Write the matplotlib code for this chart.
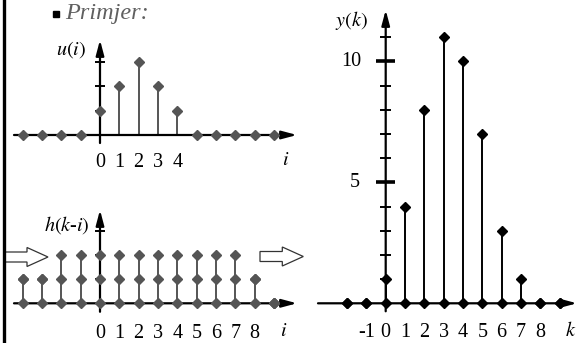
import numpy as np
import matplotlib
matplotlib.use('Agg')
import matplotlib.pyplot as plt
from matplotlib.patches import FancyArrow

plt.rcParams['font.family'] = 'Liberation Serif'
plt.rcParams['mathtext.fontset'] = 'stix'

# ulazni signal u(i)
i_vals = np.arange(-4, 10)
u_vals = [0, 0, 0, 0, 1, 2, 3, 2, 1, 0, 0, 0, 0, 0]

# pomaknuti impulsni odziv h(k-i)
h_top = [1, 1, 2, 2, 2, 2, 2, 2, 2, 2, 2, 2, 1, 0]
h_mid = [1, 1, 1, 1, 1, 1, 1, 1, 1, 1, 1, 1, 1, 0]

# izlaz y(k)
k_vals = np.arange(-2, 10)
y_vals = [0, 0, 1, 4, 8, 11, 10, 7, 3, 1, 0, 0]

u_ticks = [1, 2, 3]
h_ticks = [1, 2, 3]
y_minor = [1, 2, 3, 4, 6, 7, 8, 9, 11]
y_major = [5, 10]

W, H = 576, 343
fig = plt.figure(figsize=(W / 100, H / 100), dpi=100)

GRAY = '#555555'
FS = 14.5
MS = 4.8


def panel(ox, oy, sx, sy):
    # transparent axes over the whole figure, origin at pixel (ox, oy)
    ax = fig.add_axes([0, 0, 1, 1])
    ax.set_xlim(-ox / sx, (W - ox) / sx)
    ax.set_ylim((oy - H) / sy, oy / sy)
    ax.axis('off')
    ax.patch.set_alpha(0)
    return ax


def arrow_axis(ax, x0, y0, x1, y1):
    ax.annotate('', xy=(x1, y1), xytext=(x0, y0),
                arrowprops=dict(arrowstyle='-|>,head_length=0.75,head_width=0.2',
                                mutation_scale=12, color='black', lw=1.6,
                                shrinkA=0, shrinkB=0), annotation_clip=False)


def yticks(ax, vals, half, lw=1.4):
    for v in vals:
        ax.plot([-half, half], [v, v], color='black', lw=lw, solid_capstyle='butt')


SX = 19.33

# --- u(i) ---
ax1 = panel(100, 135, SX, 24.3)
ax1.vlines(i_vals, 0, u_vals, color=GRAY, lw=1.4)
arrow_axis(ax1, (14 - 100) / SX, 0, (297 - 100) / SX, 0)
arrow_axis(ax1, 0, -0.33, 0, (135 - 40) / 24.3)
yticks(ax1, u_ticks, 5 / SX)
ax1.plot(i_vals, u_vals, 'D', color=GRAY, ms=MS, zorder=5)
for i in range(0, 5):
    ax1.text(i, -1.15, str(i), ha='center', va='center', fontsize=FS)
ax1.text(9.6, -1.03, r'$i$', ha='center', va='center', fontsize=FS)
ax1.text(-0.72, 3.5, r'$u(i)$', ha='right', va='center', fontsize=FS)

# --- h(k-i) ---
ax2 = panel(100, 303.3, SX, 24.2)
ax2.vlines(i_vals, 0, h_top, color=GRAY, lw=1.4)
arrow_axis(ax2, (14 - 100) / SX, 0, (297 - 100) / SX, 0)
arrow_axis(ax2, 0, -0.35, 0, (303.3 - 210) / 24.2)
yticks(ax2, h_ticks, 5 / SX)
ax2.plot(i_vals, np.zeros(len(i_vals)), 'D', color=GRAY, ms=MS, zorder=5)
ax2.plot(i_vals, h_top, 'D', color=GRAY, ms=MS, zorder=5)
ax2.plot(i_vals, h_mid, 'D', color=GRAY, ms=MS, zorder=5)
for i in range(0, 9):
    ax2.text(i, -1.23, str(i), ha='center', va='center', fontsize=FS)
ax2.text(9.5, -1.15, r'$i$', ha='center', va='center', fontsize=FS)
ax2.text(-0.52, 3.24, r'$h(k$-$i)$', ha='right', va='center', fontsize=FS)

# --- y(k) ---
ax3 = panel(385.7, 303.3, SX, 24.2)
ax3.vlines(k_vals, 0, y_vals, color='black', lw=1.4)
arrow_axis(ax3, (318 - 385.7) / SX, 0, (577 - 385.7) / SX, 0)
arrow_axis(ax3, 0, -0.33, 0, (303.3 - 10) / 24.2)
yticks(ax3, y_minor, 5.5 / SX)
yticks(ax3, y_major, 9.5 / SX, lw=2.6)
ax3.plot(k_vals, y_vals, 'D', color='black', ms=MS, zorder=5)
ax3.plot(k_vals, np.zeros(len(k_vals)), 'D', color='black', ms=MS, zorder=5)
for k in range(-1, 9):
    ax3.text(k, -1.2, str(k), ha='center', va='center', fontsize=FS)
ax3.text(9.28, -1.15, r'$k$', ha='left', va='center', fontsize=FS)
ax3.text(-1.76, 10, '10', ha='center', va='center', fontsize=FS)
ax3.text(-1.59, 5, '5', ha='center', va='center', fontsize=FS)
ax3.text(-1.8, 11.67, r'$y(k)$', ha='center', va='center', fontsize=FS)

# --- okvir, naslov i strelice (pikselne koordinate) ---
bg = fig.add_axes([0, 0, 1, 1], zorder=-1)
bg.set_xlim(0, W)
bg.set_ylim(H, 0)
bg.axis('off')
bg.plot([4.3, 4.3], [0, H], color='black', lw=2.4)
bg.plot([56], [14], 's', color='black', ms=5)
bg.text(65, 13, 'Primjer:', ha='left', va='center', fontsize=17.5,
        style='italic', color='#606060')
for x0, length, y0 in [(5, 43, 257), (260, 43.3, 256.5)]:
    bg.add_patch(FancyArrow(x0, y0, length, 0, width=10, head_width=19,
                            head_length=21, length_includes_head=True,
                            facecolor='white', edgecolor='#333333', lw=0.9))

fig.savefig('out.png', dpi=100)
